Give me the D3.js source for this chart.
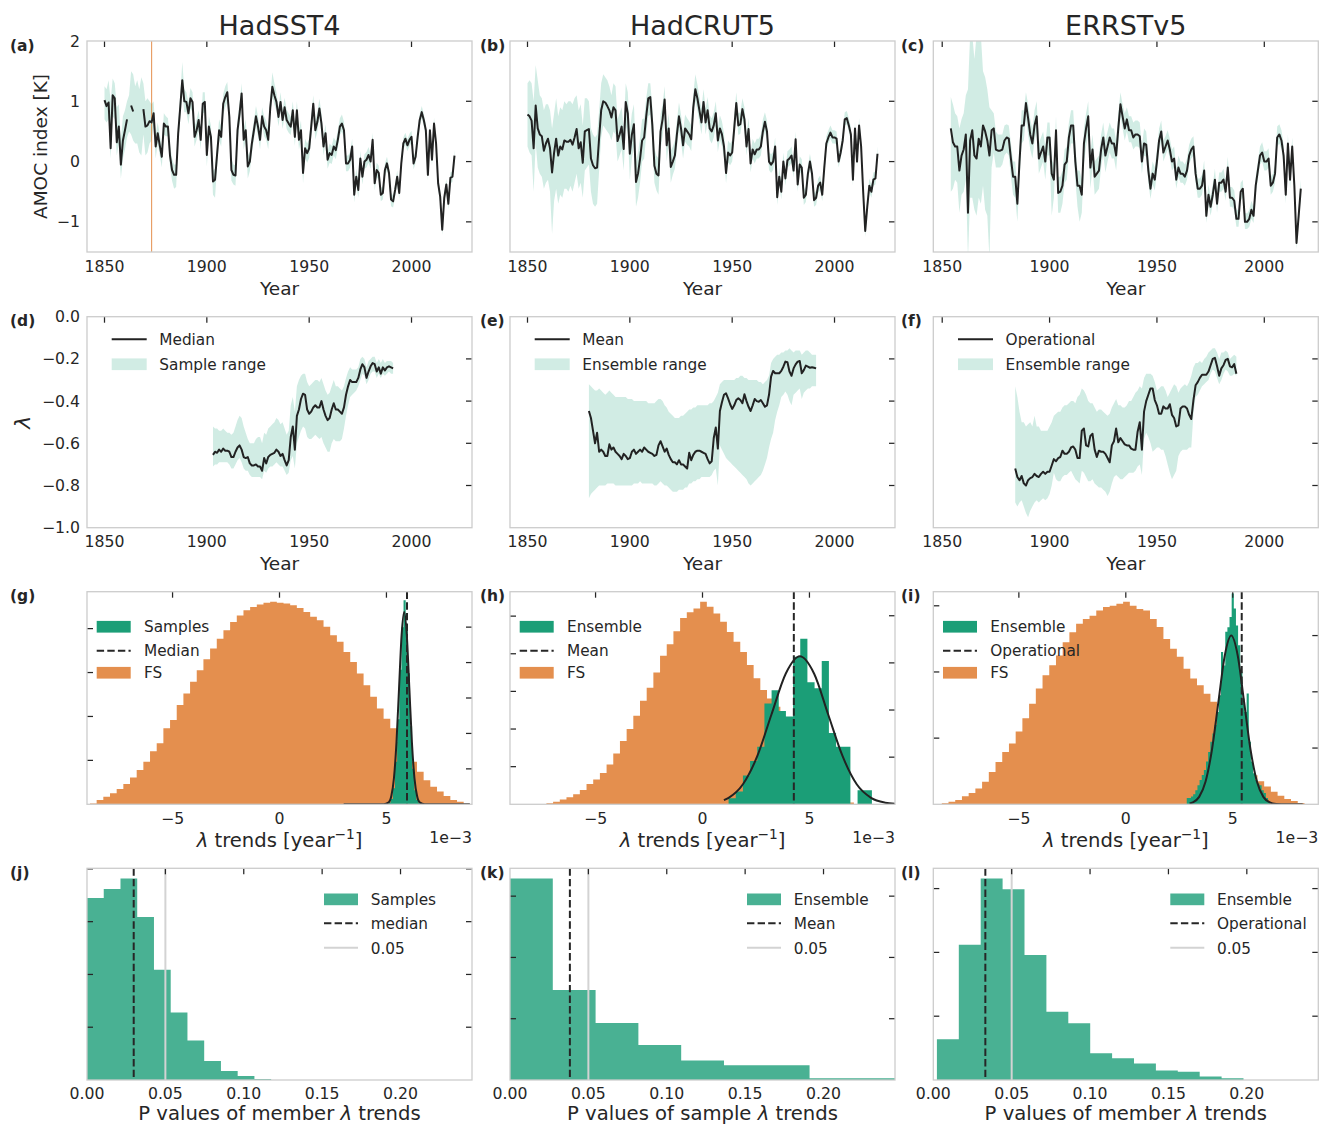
<!DOCTYPE html>
<html><head><meta charset="utf-8">
<script src="https://cdn.jsdelivr.net/npm/d3@7"></script>
<style>
body{margin:0;background:#fff}
svg{display:block}
text{font-family:"DejaVu Sans",sans-serif;fill:#262626}
</style></head>
<body><svg id="c" width="1330" height="1125"></svg>
<script>
// ---------------- DATA ----------------
const datasets = ["HadSST4", "HadCRUT5", "ERRSTv5"];
const panelLetters = ["a","b","c","d","e","f","g","h","i","j","k","l"];
const yearTicks = [1850, 1900, 1950, 2000];
const amocTicks = [2, 1, 0, -1];
const lambdaTicks = [0, -0.2, -0.4, -0.6, -0.8, -1.0];
const trendTicks = [-5, 0, 5];
const pTicks = [0, 0.05, 0.10, 0.15, 0.20];

// Row 1: AMOC index (annual)
const hadsstYears = d3.range(1850, 2022);
const hadsstVal = [1.02,0.92,0.98,0.22,1.1,1.05,0.32,0.58,-0.05,0.35,
0.52,0.7,null,0.93,0.83,null,null,null,null,0.87,
0.58,0.6,0.67,0.65,0.8,0.25,0.47,0.27,0.08,0.63,
0.58,0.58,0.1,-0.14,-0.22,-0.22,0.47,0.9,1.35,1.0,
0.99,0.8,1.05,0.99,0.41,0.52,0.69,0.36,0.96,0.99,
0.11,0.58,0.41,-0.33,-0.3,0.12,0.52,0.41,0.96,1.07,
1.15,0.74,-0.14,-0.22,-0.23,0.52,0.8,1.13,0.36,0.52,
-0.08,0.0,0.3,0.52,0.75,0.58,0.36,0.75,0.58,0.52,
0.36,0.9,1.24,1.1,0.99,0.74,0.99,0.69,0.9,0.69,
0.63,0.58,0.85,0.41,0.85,0.36,0.52,-0.19,0.22,0.14,
0.22,0.58,0.96,0.52,0.66,0.88,0.63,0.25,0.47,0.03,
0.14,0.11,0.25,0.19,0.36,0.58,0.63,0.52,-0.03,-0.03,
0.03,0.25,-0.55,-0.25,-0.47,0.05,-0.25,0.0,0.03,0.11,
0.0,0.36,-0.36,-0.14,-0.19,-0.55,-0.52,-0.14,-0.03,-0.19,
-0.63,-0.66,-0.47,-0.25,-0.52,-0.03,0.3,0.38,0.27,0.36,
0.41,-0.03,0.08,0.41,0.69,0.82,0.69,0.52,-0.22,0.52,
0.03,0.63,0.3,-0.36,-0.58,-1.13,-0.6,-0.38,-0.7,-0.27,
-0.25,0.1];
const hadsstLo = [0.7,0.65,0.7,0.05,0.75,0.7,0.1,0.3,-0.28,0.05,
0.2,0.4,0.5,0.45,0.35,0.3,0.3,0.15,0.1,0.45,
0.1,0.15,0.3,0.35,0.6,0.05,0.3,0.1,-0.1,0.45,
0.42,0.42,-0.08,-0.32,-0.45,-0.42,0.3,0.72,1.15,0.82,
0.82,0.62,0.88,0.82,0.25,0.36,0.52,0.2,0.8,0.82,
-0.08,0.42,0.25,-0.55,-0.6,-0.08,0.35,0.25,0.78,0.9,
0.98,0.55,-0.32,-0.38,-0.4,0.35,0.62,0.95,0.2,0.35,
-0.28,-0.16,0.14,0.36,0.58,0.42,0.2,0.6,0.42,0.36,
0.2,0.75,1.08,0.94,0.84,0.58,0.84,0.54,0.75,0.54,
0.48,0.44,0.7,0.26,0.7,0.2,0.36,-0.36,0.06,-0.02,
0.06,0.42,0.8,0.36,0.5,0.72,0.47,0.1,0.32,-0.12,
-0.02,-0.04,0.1,0.04,0.22,0.44,0.5,0.38,-0.16,-0.16,
-0.1,0.12,-0.68,-0.38,-0.6,-0.08,-0.38,-0.12,-0.1,-0.02,
-0.12,0.24,-0.48,-0.26,-0.3,-0.66,-0.63,-0.25,-0.14,-0.3,
-0.74,-0.76,-0.57,-0.35,-0.62,-0.13,0.2,0.28,0.17,0.26,
0.31,-0.13,-0.02,0.31,0.59,0.72,0.59,0.42,-0.32,0.42,
-0.07,0.53,0.2,-0.46,-0.68,-1.22,-0.7,-0.47,-0.79,-0.36,
-0.34,0.01];
const hadsstHi = [1.25,1.2,1.35,1.0,1.38,1.3,0.9,0.95,0.35,0.75,
0.85,1.0,1.1,1.5,1.45,1.25,1.35,1.2,1.4,1.3,
1.0,1.05,1.0,0.95,1.0,0.45,0.65,0.45,0.25,0.8,
0.75,0.72,0.28,0.05,-0.05,-0.05,0.65,1.1,1.65,1.2,
1.15,0.98,1.22,1.15,0.58,0.7,0.85,0.55,1.15,1.15,
0.3,0.75,0.6,-0.15,-0.12,0.3,0.7,0.58,1.12,1.25,
1.32,0.9,0.05,-0.05,-0.06,0.7,0.98,1.3,0.55,0.7,
0.1,0.16,0.46,0.68,0.92,0.75,0.52,0.9,0.75,0.68,
0.52,1.06,1.48,1.3,1.15,0.9,1.15,0.85,1.06,0.86,
0.8,0.74,1.0,0.58,1.0,0.52,0.68,-0.02,0.38,0.3,
0.38,0.74,1.1,0.68,0.82,1.04,0.8,0.42,0.62,0.18,
0.3,0.26,0.4,0.34,0.52,0.72,0.78,0.66,0.1,0.1,
0.16,0.38,-0.42,-0.12,-0.34,0.18,-0.12,0.12,0.16,0.24,
0.12,0.48,-0.24,-0.02,-0.07,-0.44,-0.41,-0.03,0.08,-0.08,
-0.52,-0.56,-0.37,-0.15,-0.42,0.07,0.4,0.48,0.37,0.46,
0.51,0.07,0.18,0.51,0.79,0.92,0.79,0.62,-0.12,0.62,
0.13,0.73,0.4,-0.26,-0.48,-1.04,-0.5,-0.29,-0.61,-0.18,
-0.16,0.19];
const hadsstMarkYear = 1873;

const hadcrutYears = d3.range(1850, 2022);
const hadcrutVal = [0.78,0.75,0.68,0.22,0.93,0.55,0.45,0.42,0.18,0.3,
0.38,0.22,-0.18,0.15,0.38,0.1,0.25,0.2,0.35,0.33,
0.33,0.36,0.28,0.4,0.54,0.22,0.32,-0.02,0.5,0.52,
0.54,0.05,-0.06,-0.11,-0.1,0.4,0.85,1.0,0.98,0.92,
0.85,0.73,0.9,0.85,0.34,0.45,0.58,0.21,0.99,0.8,
0.13,0.45,0.62,-0.34,-0.2,0.05,0.35,0.4,0.75,1.05,
1.07,0.6,-0.07,-0.2,-0.23,0.5,0.7,1.03,0.27,0.55,
-0.09,0.0,0.1,0.45,0.75,0.55,0.27,0.55,0.5,0.45,
0.37,0.9,1.2,1.05,0.85,0.65,0.99,0.65,0.85,0.55,
0.5,0.6,0.8,0.35,0.55,0.45,0.25,-0.19,0.15,0.1,
0.15,0.55,0.97,0.6,0.62,0.87,0.7,0.25,0.54,-0.03,
0.2,0.12,0.2,0.2,0.25,0.5,0.66,0.5,0.0,-0.05,
0.0,0.25,-0.59,-0.25,-0.5,0.0,-0.28,0.02,0.05,0.1,
-0.15,0.37,-0.38,-0.05,-0.1,-0.6,-0.55,-0.2,0.0,-0.2,
-0.64,-0.6,-0.4,-0.35,-0.55,-0.1,0.3,0.4,0.48,0.4,
0.4,0.38,0.0,0.15,0.35,0.7,0.72,0.6,0.45,-0.3,
0.55,0.0,0.6,0.25,-0.5,-1.15,-0.75,-0.4,-0.5,-0.3,
-0.28,0.13];
const hadcrutLo = [0.25,0.15,0.1,-0.5,0.3,-0.1,-0.2,-0.25,-0.45,-0.35,
-0.3,-0.5,-1.2,-0.65,-0.45,-0.7,-0.55,-0.6,-0.45,-0.45,
-0.5,-0.4,-0.5,-0.35,-0.2,-0.45,-0.35,-0.6,-0.15,-0.1,
-0.05,-0.5,-0.7,-0.75,-0.7,-0.15,0.4,0.6,0.55,0.5,
0.45,0.35,0.5,0.45,0.0,0.1,0.2,-0.15,0.6,0.45,
-0.3,0.05,0.25,-0.75,-0.6,-0.35,0.0,0.05,0.45,0.75,
0.78,0.3,-0.35,-0.48,-0.55,0.2,0.42,0.75,0.0,0.28,
-0.35,-0.22,-0.12,0.22,0.52,0.33,0.05,0.33,0.28,0.25,
0.17,0.7,1.0,0.85,0.65,0.45,0.8,0.45,0.65,0.36,
0.3,0.4,0.6,0.16,0.36,0.26,0.06,-0.36,-0.02,-0.06,
0.0,0.38,0.8,0.44,0.46,0.7,0.55,0.1,0.38,-0.18,
0.05,-0.03,0.05,0.05,0.1,0.35,0.5,0.35,-0.14,-0.19,
-0.14,0.11,-0.72,-0.38,-0.63,-0.13,-0.4,-0.1,-0.07,-0.02,
-0.27,0.25,-0.5,-0.17,-0.22,-0.72,-0.67,-0.32,-0.12,-0.32,
-0.75,-0.72,-0.52,-0.47,-0.66,-0.21,0.2,0.3,0.38,0.3,
0.3,0.28,-0.1,0.05,0.25,0.6,0.62,0.5,0.35,-0.4,
0.45,-0.1,0.5,0.15,-0.6,-1.25,-0.85,-0.5,-0.6,-0.4,
-0.38,0.03];
const hadcrutHi = [1.3,1.35,1.3,1.0,1.6,1.35,1.1,1.05,0.85,0.95,
0.95,0.85,0.55,0.8,1.05,0.75,0.9,0.85,1.0,0.95,
1.0,1.0,0.95,1.05,1.1,0.85,0.95,0.6,1.05,1.05,
1.0,0.55,0.45,0.4,0.45,0.85,1.3,1.45,1.4,1.35,
1.25,1.1,1.3,1.25,0.7,0.8,0.9,0.55,1.3,1.15,
0.5,0.8,0.95,0.0,0.15,0.4,0.7,0.72,1.05,1.3,
1.3,0.9,0.22,0.1,0.05,0.78,0.95,1.25,0.55,0.8,
0.18,0.25,0.35,0.68,0.98,0.78,0.5,0.78,0.72,0.67,
0.6,1.12,1.45,1.28,1.08,0.88,1.2,0.88,1.07,0.77,
0.72,0.82,1.0,0.57,0.77,0.67,0.47,0.02,0.35,0.3,
0.35,0.75,1.15,0.8,0.82,1.05,0.9,0.45,0.72,0.15,
0.38,0.3,0.38,0.38,0.45,0.7,0.82,0.68,0.16,0.12,
0.16,0.4,-0.44,-0.1,-0.35,0.15,-0.13,0.17,0.2,0.25,
0.0,0.5,-0.24,0.09,0.04,-0.47,-0.42,-0.07,0.13,-0.07,
-0.52,-0.48,-0.28,-0.23,-0.43,0.02,0.42,0.52,0.6,0.52,
0.52,0.5,0.12,0.27,0.47,0.82,0.84,0.72,0.57,-0.18,
0.67,0.12,0.72,0.37,-0.38,-1.03,-0.63,-0.28,-0.38,-0.18,
-0.16,0.25];

const ersstYears = d3.range(1854, 2018);
const ersstVal = [0.55,0.32,0.25,0.25,-0.15,0.1,0.2,0.45,-0.85,0.35,
0.52,0.1,0.05,0.38,0.25,0.6,0.5,0.35,0.1,0.52,
0.55,0.2,0.18,0.18,0.2,0.35,0.4,0.38,0.05,-0.25,
-0.25,-0.7,0.0,0.6,0.6,0.97,0.72,0.45,0.3,0.6,
0.75,0.05,0.15,0.25,0.0,0.4,0.4,-0.2,-0.3,0.52,
-0.52,-0.5,-0.4,-0.05,0.0,0.4,0.6,0.6,0.0,-0.4,
-0.4,-0.55,0.3,0.55,0.75,-0.1,0.2,-0.25,-0.2,-0.15,
0.2,0.4,0.1,0.25,0.4,0.3,0.3,0.1,0.55,0.95,
0.75,0.55,0.7,0.52,0.52,0.4,0.45,0.45,0.42,0.0,
0.3,0.28,-0.15,-0.45,-0.2,-0.3,0.0,0.35,0.5,0.15,
0.25,0.35,0.2,0.0,0.05,-0.3,-0.1,-0.2,-0.2,-0.25,
-0.15,0.1,0.2,0.25,-0.2,-0.45,-0.45,-0.4,-0.15,-0.9,
-0.55,-0.75,-0.55,-0.3,-0.7,-0.35,-0.35,-0.3,-0.5,-0.1,
-0.6,-0.6,-0.65,-0.95,-0.95,-0.5,-0.45,-1.0,-1.0,-0.95,
-0.8,-0.9,-0.4,-0.15,0.1,0.15,0.0,0.0,0.05,-0.4,
-0.35,-0.2,0.4,0.45,0.35,0.1,-0.55,0.3,-0.3,0.25,
-0.4,-1.35,-0.9,-0.45];
const ersstLo = [-0.5,-0.45,-0.3,-0.35,-0.85,-0.55,-0.5,-0.3,-1.6,-0.6,
-0.6,-0.8,-0.9,-0.6,-0.7,-0.4,-0.8,-0.9,-1.6,-0.1,
0.15,-0.1,-0.1,-0.1,-0.05,0.1,0.15,0.1,-0.25,-0.55,
-0.6,-1.0,-0.3,0.3,0.35,0.72,0.45,0.2,0.05,0.35,
0.5,-0.2,-0.1,0.0,-0.3,0.1,0.1,-0.9,-0.6,0.2,
-0.85,-0.85,-0.7,-0.35,-0.3,0.1,0.3,0.3,-0.3,-0.75,
-1.0,-0.85,-0.05,0.25,0.45,-0.45,-0.1,-0.55,-0.5,-0.45,
-0.1,0.12,-0.18,0.0,0.15,0.05,0.05,-0.15,0.3,0.75,
0.55,0.35,0.5,0.32,0.32,0.2,0.25,0.25,0.22,-0.2,
0.1,0.08,-0.35,-0.62,-0.38,-0.48,-0.18,0.18,0.35,0.0,
0.1,0.2,0.05,-0.15,-0.1,-0.45,-0.25,-0.35,-0.35,-0.4,
-0.3,-0.05,0.05,0.1,-0.35,-0.6,-0.6,-0.55,-0.3,-1.02,
-0.7,-0.9,-0.7,-0.45,-0.85,-0.5,-0.5,-0.45,-0.65,-0.25,
-0.75,-0.75,-0.8,-1.08,-1.08,-0.65,-0.6,-1.12,-1.12,-1.08,
-0.95,-1.02,-0.55,-0.3,-0.05,0.0,-0.15,-0.15,-0.1,-0.55,
-0.5,-0.35,0.25,0.3,0.2,-0.05,-0.7,0.15,-0.45,0.1,
-0.55,-1.45,-1.05,-0.6];
const ersstHi = [1.07,0.95,0.8,0.75,0.55,0.7,0.8,1.1,1.2,2.1,
2.1,1.7,2.1,2.1,2.1,1.5,1.4,1.2,0.9,0.85,
0.8,0.5,0.45,0.45,0.45,0.6,0.62,0.6,0.3,0.0,
0.0,-0.45,0.25,0.85,0.85,1.15,0.95,0.7,0.55,0.85,
1.0,0.3,0.4,0.5,0.25,0.65,0.65,0.05,-0.05,0.75,
-0.25,-0.25,-0.15,0.2,0.25,0.65,0.85,0.85,0.25,-0.15,
-0.15,-0.3,0.55,0.8,1.0,0.15,0.45,0.0,0.05,0.1,
0.45,0.65,0.35,0.5,0.65,0.55,0.55,0.35,0.8,1.15,
0.95,0.8,0.9,0.75,0.75,0.65,0.68,0.68,0.65,0.25,
0.55,0.5,0.1,-0.25,0.0,-0.1,0.2,0.55,0.68,0.35,
0.42,0.52,0.38,0.2,0.25,-0.12,0.1,0.0,0.0,-0.05,
0.05,0.28,0.38,0.42,0.0,-0.28,-0.28,-0.22,0.02,-0.72,
-0.38,-0.58,-0.38,-0.12,-0.52,-0.18,-0.18,-0.12,-0.32,0.08,
-0.42,-0.42,-0.48,-0.8,-0.8,-0.35,-0.3,-0.85,-0.86,-0.8,
-0.65,-0.75,-0.25,0.0,0.25,0.32,0.17,0.17,0.22,-0.25,
-0.2,-0.05,0.58,0.62,0.52,0.28,-0.4,0.45,-0.15,0.4,
-0.25,-1.25,-0.75,-0.3];

// Row 2: lambda
const lamSSTYears = d3.range(1903, 1992);
const lamSSTVal = [-0.655,-0.64,-0.645,-0.63,-0.64,-0.625,-0.635,-0.635,-0.64,-0.665,
-0.665,-0.64,-0.62,-0.61,-0.63,-0.665,-0.67,-0.665,-0.695,-0.705,
-0.705,-0.7,-0.71,-0.71,-0.73,-0.67,-0.695,-0.665,-0.655,-0.65,
-0.645,-0.63,-0.64,-0.66,-0.65,-0.68,-0.705,-0.68,-0.57,-0.52,
-0.63,-0.47,-0.44,-0.39,-0.365,-0.37,-0.44,-0.46,-0.45,-0.43,
-0.42,-0.43,-0.43,-0.40,-0.44,-0.47,-0.49,-0.48,-0.44,-0.41,
-0.44,-0.44,-0.45,-0.46,-0.43,-0.37,-0.33,-0.30,-0.31,-0.31,
-0.31,-0.29,-0.25,-0.225,-0.24,-0.29,-0.26,-0.235,-0.22,-0.225,
-0.26,-0.24,-0.27,-0.24,-0.255,-0.24,-0.235,-0.24,-0.245];
const lamSSTLo = [-0.71,-0.70,-0.70,-0.69,-0.69,-0.69,-0.69,-0.69,-0.70,-0.72,
-0.72,-0.70,-0.68,-0.67,-0.69,-0.72,-0.73,-0.73,-0.75,-0.76,
-0.76,-0.76,-0.76,-0.76,-0.77,-0.73,-0.74,-0.72,-0.71,-0.71,
-0.70,-0.69,-0.70,-0.71,-0.71,-0.73,-0.75,-0.74,-0.68,-0.66,
-0.72,-0.60,-0.57,-0.54,-0.52,-0.53,-0.57,-0.58,-0.58,-0.57,
-0.56,-0.57,-0.58,-0.57,-0.60,-0.62,-0.64,-0.64,-0.60,-0.58,
-0.59,-0.59,-0.59,-0.58,-0.53,-0.47,-0.42,-0.38,-0.37,-0.36,
-0.35,-0.33,-0.30,-0.27,-0.28,-0.32,-0.30,-0.27,-0.26,-0.26,
-0.29,-0.27,-0.29,-0.27,-0.28,-0.27,-0.26,-0.27,-0.27];
const lamSSTHi = [-0.52,-0.53,-0.53,-0.54,-0.54,-0.53,-0.54,-0.55,-0.55,-0.56,
-0.55,-0.52,-0.49,-0.47,-0.48,-0.52,-0.55,-0.58,-0.60,-0.60,
-0.60,-0.58,-0.57,-0.57,-0.60,-0.55,-0.56,-0.53,-0.52,-0.51,
-0.50,-0.48,-0.49,-0.51,-0.50,-0.53,-0.56,-0.54,-0.42,-0.38,
-0.45,-0.33,-0.30,-0.28,-0.27,-0.27,-0.31,-0.33,-0.32,-0.31,
-0.30,-0.30,-0.31,-0.29,-0.32,-0.35,-0.37,-0.36,-0.33,-0.30,
-0.33,-0.33,-0.34,-0.35,-0.33,-0.29,-0.26,-0.24,-0.25,-0.25,
-0.25,-0.24,-0.20,-0.19,-0.20,-0.24,-0.21,-0.20,-0.19,-0.19,
-0.22,-0.20,-0.22,-0.20,-0.22,-0.21,-0.21,-0.21,-0.22];

const lamCRUTYears = d3.range(1880, 1992);
const lamCRUTVal = [-0.447,-0.48,-0.54,-0.6,-0.55,-0.64,-0.63,-0.64,-0.66,-0.66,
-0.605,-0.63,-0.62,-0.64,-0.65,-0.66,-0.675,-0.65,-0.66,-0.675,
-0.67,-0.64,-0.63,-0.65,-0.64,-0.63,-0.64,-0.62,-0.63,-0.64,
-0.645,-0.65,-0.66,-0.655,-0.61,-0.59,-0.615,-0.64,-0.625,-0.655,
-0.675,-0.69,-0.69,-0.7,-0.68,-0.7,-0.7,-0.71,-0.72,-0.645,
-0.68,-0.655,-0.64,-0.635,-0.635,-0.64,-0.645,-0.65,-0.675,-0.695,
-0.685,-0.575,-0.525,-0.625,-0.447,-0.405,-0.37,-0.363,-0.387,-0.415,
-0.437,-0.42,-0.395,-0.387,-0.395,-0.41,-0.368,-0.4,-0.427,-0.447,
-0.42,-0.39,-0.4,-0.403,-0.395,-0.41,-0.427,-0.42,-0.37,-0.284,
-0.257,-0.268,-0.268,-0.268,-0.257,-0.237,-0.213,-0.216,-0.26,-0.28,
-0.245,-0.226,-0.213,-0.21,-0.268,-0.253,-0.232,-0.237,-0.242,-0.24,
-0.242,-0.245];
const lamCRUTLo = [-0.86,-0.84,-0.83,-0.82,-0.81,-0.80,-0.80,-0.80,-0.80,-0.79,
-0.79,-0.79,-0.79,-0.80,-0.80,-0.80,-0.80,-0.80,-0.80,-0.80,
-0.80,-0.80,-0.79,-0.79,-0.79,-0.78,-0.79,-0.79,-0.79,-0.79,
-0.79,-0.79,-0.80,-0.80,-0.79,-0.78,-0.79,-0.80,-0.80,-0.81,
-0.82,-0.83,-0.83,-0.83,-0.82,-0.82,-0.82,-0.81,-0.81,-0.79,
-0.79,-0.78,-0.78,-0.77,-0.77,-0.76,-0.76,-0.76,-0.76,-0.76,
-0.75,-0.73,-0.72,-0.80,-0.61,-0.63,-0.65,-0.67,-0.68,-0.69,
-0.70,-0.71,-0.72,-0.73,-0.74,-0.75,-0.76,-0.77,-0.79,-0.80,
-0.79,-0.78,-0.77,-0.76,-0.75,-0.73,-0.70,-0.67,-0.62,-0.58,
-0.55,-0.49,-0.45,-0.42,-0.38,-0.37,-0.355,-0.37,-0.40,-0.42,
-0.37,-0.36,-0.35,-0.34,-0.39,-0.36,-0.35,-0.34,-0.34,-0.33,
-0.33,-0.33];
const lamCRUTHi = [-0.32,-0.33,-0.34,-0.35,-0.35,-0.34,-0.35,-0.36,-0.37,-0.36,
-0.35,-0.36,-0.37,-0.38,-0.38,-0.38,-0.38,-0.38,-0.38,-0.39,
-0.39,-0.39,-0.40,-0.40,-0.40,-0.40,-0.40,-0.40,-0.40,-0.41,
-0.41,-0.41,-0.41,-0.40,-0.39,-0.39,-0.40,-0.42,-0.43,-0.45,
-0.46,-0.47,-0.48,-0.48,-0.48,-0.47,-0.47,-0.46,-0.45,-0.44,
-0.44,-0.43,-0.43,-0.42,-0.42,-0.42,-0.42,-0.42,-0.42,-0.41,
-0.41,-0.40,-0.38,-0.36,-0.32,-0.31,-0.30,-0.30,-0.30,-0.30,
-0.30,-0.30,-0.29,-0.29,-0.28,-0.28,-0.29,-0.29,-0.30,-0.30,
-0.30,-0.30,-0.30,-0.31,-0.31,-0.32,-0.31,-0.30,-0.28,-0.22,
-0.20,-0.19,-0.18,-0.18,-0.17,-0.17,-0.16,-0.16,-0.15,-0.16,
-0.17,-0.16,-0.16,-0.16,-0.18,-0.17,-0.16,-0.16,-0.17,-0.18,
-0.18,-0.18];

const lamERSSTYears = d3.range(1884, 1988);
const lamERSSTVal = [-0.72,-0.76,-0.775,-0.755,-0.79,-0.8,-0.775,-0.765,-0.76,-0.745,
-0.755,-0.76,-0.745,-0.735,-0.745,-0.735,-0.735,-0.705,-0.675,-0.685,
-0.67,-0.665,-0.635,-0.65,-0.65,-0.64,-0.62,-0.615,-0.63,-0.67,
-0.67,-0.54,-0.53,-0.61,-0.615,-0.565,-0.555,-0.63,-0.665,-0.635,
-0.64,-0.64,-0.65,-0.67,-0.69,-0.61,-0.59,-0.53,-0.595,-0.575,
-0.59,-0.605,-0.61,-0.61,-0.625,-0.63,-0.63,-0.545,-0.5,-0.63,
-0.45,-0.4,-0.37,-0.34,-0.34,-0.395,-0.42,-0.46,-0.46,-0.425,
-0.435,-0.435,-0.415,-0.465,-0.48,-0.52,-0.515,-0.435,-0.425,-0.425,
-0.435,-0.465,-0.485,-0.395,-0.325,-0.31,-0.29,-0.275,-0.275,-0.275,
-0.26,-0.23,-0.2,-0.195,-0.235,-0.28,-0.245,-0.23,-0.205,-0.2,
-0.235,-0.24,-0.225,-0.27];
const lamERSSTLo = [-0.88,-0.90,-0.88,-0.87,-0.90,-0.93,-0.95,-0.92,-0.90,-0.88,
-0.87,-0.88,-0.87,-0.86,-0.87,-0.86,-0.84,-0.80,-0.74,-0.77,
-0.78,-0.78,-0.76,-0.75,-0.75,-0.74,-0.73,-0.75,-0.77,-0.78,
-0.79,-0.73,-0.74,-0.76,-0.78,-0.78,-0.77,-0.79,-0.80,-0.81,
-0.81,-0.82,-0.83,-0.85,-0.83,-0.79,-0.76,-0.75,-0.76,-0.77,
-0.77,-0.76,-0.75,-0.74,-0.74,-0.74,-0.73,-0.71,-0.70,-0.75,
-0.58,-0.55,-0.57,-0.60,-0.64,-0.63,-0.62,-0.62,-0.63,-0.63,
-0.66,-0.70,-0.74,-0.77,-0.75,-0.73,-0.66,-0.64,-0.63,-0.63,
-0.63,-0.62,-0.62,-0.46,-0.38,-0.37,-0.35,-0.33,-0.32,-0.31,
-0.30,-0.27,-0.25,-0.26,-0.29,-0.32,-0.30,-0.27,-0.25,-0.26,
-0.28,-0.28,-0.27,-0.28];
const lamERSSTHi = [-0.33,-0.38,-0.45,-0.50,-0.50,-0.52,-0.51,-0.50,-0.52,-0.47,
-0.52,-0.52,-0.54,-0.54,-0.54,-0.54,-0.52,-0.50,-0.47,-0.46,
-0.45,-0.45,-0.43,-0.42,-0.42,-0.41,-0.40,-0.40,-0.41,-0.38,
-0.37,-0.34,-0.35,-0.37,-0.40,-0.41,-0.41,-0.43,-0.45,-0.44,
-0.44,-0.45,-0.46,-0.47,-0.46,-0.43,-0.41,-0.39,-0.42,-0.42,
-0.43,-0.43,-0.42,-0.40,-0.40,-0.38,-0.36,-0.35,-0.33,-0.34,
-0.29,-0.27,-0.27,-0.27,-0.28,-0.31,-0.35,-0.34,-0.33,-0.33,
-0.35,-0.38,-0.36,-0.34,-0.32,-0.33,-0.36,-0.34,-0.33,-0.32,
-0.33,-0.31,-0.28,-0.24,-0.22,-0.22,-0.21,-0.22,-0.20,-0.19,
-0.17,-0.16,-0.15,-0.15,-0.17,-0.20,-0.17,-0.17,-0.16,-0.17,
-0.20,-0.19,-0.18,-0.19];

// Row 3: lambda trend histograms (x in 1e-3 / year)
const fsSSTStart = -8.861, fsSSTWidth = 0.312;
const fsSST = [0.02,0.10,0.17,0.25,0.35,0.46,0.61,0.78,0.97,1.21,1.39,1.73,1.92,2.26,2.52,2.79,3.05,3.30,3.55,3.77,3.96,4.15,4.30,4.42,4.49,4.55,4.59,4.61,4.59,4.57,4.53,4.47,4.38,4.27,4.19,4.04,3.85,3.70,3.47,3.24,2.98,2.71,2.45,2.18,1.95,1.73,1.42,1.20,0.97,0.74,0.55,0.40,0.29,0.19,0.10,0.06];
const fsCRUTStart = -7.297, fsCRUTWidth = 0.3125;
const fsCRUT = [0.03,0.07,0.13,0.19,0.27,0.38,0.54,0.66,0.83,1.06,1.35,1.68,2.0,2.35,2.75,3.1,3.5,3.95,4.25,4.6,4.95,5.1,5.2,5.38,5.25,5.07,4.85,4.58,4.32,4.05,3.70,3.35,3.04,2.81,2.59,2.28,1.93,1.58,1.22,0.91,0.65,0.47,0.32,0.20,0.12,0.05];
const fsERSSTStart = -8.603, fsERSSTWidth = 0.314;
const fsERSST = [0.015,0.04,0.065,0.12,0.17,0.24,0.34,0.49,0.64,0.79,0.92,1.10,1.30,1.52,1.75,1.95,2.10,2.25,2.45,2.60,2.73,2.80,2.85,2.93,2.98,3.0,3.03,3.06,3.0,2.95,2.93,2.80,2.68,2.50,2.35,2.23,2.05,1.90,1.80,1.67,1.55,1.35,1.15,0.94,0.74,0.57,0.44,0.35,0.27,0.19,0.13,0.08,0.05,0.02];

const ensSSTStart = 5.1, ensSSTWidth = 0.1;
const ensSST = [0.05,0.15,0.45,1.2,2.4,3.8,5.0,5.76,5.0,3.7,2.2,1.0,0.4,0.12,0.04];
const ensCRUTStart = 1.22, ensCRUTWidth = 0.335;
const ensCRUT = [0.13,0.27,0.61,0.92,1.22,2.14,2.42,1.98,1.86,3.13,3.51,2.59,2.46,3.04,1.51,1.22,1.22,0,0.30,0.30];
const ensERSSTStart = 2.85, ensERSSTWidth = 0.1;
const ensERSST = [0.11,0.11,0.14,0.18,0.25,0.34,0.43,0.52,0.61,0.76,0.93,1.11,1.26,1.41,1.64,1.94,2.71,2.47,3.07,3.15,3.33,3.75,3.48,3.18,2.83,2.36,1.88,1.64,1.97,1.11,0.76,0.55,0.43,0.37,0.34,0.25,0.2,0.11,0.05];

// fitted normal curves
const fitSSTx = [3.0,4.87,5.11,5.23,5.35,5.47,5.59,5.71,5.83,5.95,6.07,6.19,6.31,6.43,6.55,6.79,8.9];
const fitSSTy = [0,0.002,0.06,0.24,0.735,1.76,3.29,4.79,5.43,4.79,3.29,1.76,0.735,0.24,0.06,0.002,0];
const fitCRUTx = [1.0,1.22,1.89,2.56,3.22,3.89,4.55,5.22,5.88,6.55,7.21,7.88,8.54,9.0];
const fitCRUTy = [0.09,0.138,0.425,1.02,1.90,2.77,3.14,2.77,1.90,1.02,0.425,0.138,0.035,0.012];
const fitERSSTx = [2.98,3.13,3.43,3.73,4.03,4.33,4.63,4.93,5.23,5.53,5.83,6.13,6.43,6.73,7.03,7.5,8.27];
const fitERSSTy = [0.015,0.033,0.132,0.406,0.974,1.82,2.65,3.0,2.65,1.82,0.974,0.406,0.132,0.033,0.007,0,0];

const trendRef = [5.96, 4.27, 5.42];       // median / mean / operational
const twinMax = [6.0, 4.51, 3.78];          // right-axis upper limit

// Row 4: p-value histograms
const pSSTStart = 0, pSSTWidth = 0.01068;
const pSST = [3.45,3.62,3.82,3.09,2.09,1.28,0.75,0.36,0.17,0.075,0.02];
const pCRUTStart = 0, pCRUTWidth = 0.0273;
const pCRUT = [3.29,1.47,0.93,0.57,0.32,0.24,0.24,0.027,0.027];
const pERSSTStart = 0.0023, pERSSTWidth = 0.01397;
const pERSST = [0.64,2.12,3.16,2.99,1.96,1.07,0.89,0.42,0.34,0.26,0.15,0.13,0.053,0.027];
const pRef = [0.0298, 0.0382, 0.0332];
const pThreshold = 0.05;

// ---------------- LAYOUT / STYLE ----------------
const svg = d3.select("#c");
const defs = svg.append("defs");
const cols = [87, 510, 933.3], AW = 385;
const rows = [{top:41,h:211},{top:316.7,h:211},{top:591.7,h:212.6},{top:868.3,h:211.7}];
const GREEN = "#1b9e77", BAND_OP = 0.2, ORANGE_BL = "#e48f4e", PBAR = "#49b193";
const INK = "#262626", LINE = "#222222", SPINE = "#cccccc";
const TICKFS = 15.7, LABFS = 18.5, LABFS2 = 19.6, LEGFS = 15.3;
const fmtMinus = s => String(s).replace("-", "\u2212");

function panel(ci, ri){
  const x0 = cols[ci], y0 = rows[ri].top, w = AW, h = rows[ri].h;
  const g = svg.append("g").attr("transform", `translate(${x0},${y0})`);
  const id = `clip_${ci}_${ri}`;
  defs.append("clipPath").attr("id", id).append("rect").attr("x",0).attr("y",0).attr("width", w).attr("height", h);
  const data = g.append("g").attr("clip-path", `url(#${id})`);
  return {g, data, w, h, ci, ri};
}
function spines(p){
  p.g.append("rect").attr("x",0).attr("y",0).attr("width",p.w).attr("height",p.h)
    .attr("fill","none").attr("stroke",SPINE).attr("stroke-width",1.3);
}
function tickMarks(p, pos, side){
  const L = 6;
  pos.forEach(v=>{
    let a;
    if(side==="top") a=[v,0,v,L];
    else if(side==="right") a=[p.w,v,p.w-L,v];
    else if(side==="left") a=[0,v,L,v];
    p.g.append("line").attr("x1",a[0]).attr("y1",a[1]).attr("x2",a[2]).attr("y2",a[3])
      .attr("stroke",INK).attr("stroke-width",1.25);
  });
}
function xLabels(p, x, vals, fmt){
  vals.forEach(v=>{
    p.g.append("text").attr("x",x(v)).attr("y",p.h+19.5).attr("text-anchor","middle")
      .attr("font-size",TICKFS).text(fmt(v));
  });
}
function yLabels(p, y, vals, fmt){
  vals.forEach(v=>{
    p.g.append("text").attr("x",-7).attr("y",y(v)+5.6).attr("text-anchor","end")
      .attr("font-size",TICKFS).text(fmt(v));
  });
}
function xTitle(p, build, dy, fs){
  const t = p.g.append("text").attr("x",p.w/2).attr("y",p.h+dy).attr("text-anchor","middle").attr("font-size",fs);
  build(t);
}
function inner(v, lo, hi){ return v > lo + 1e-9 && v < hi - 1e-9; }
function panelLabel(ci, ri){
  const xs = [10, 480, 901];
  svg.append("text").attr("x",xs[ci]).attr("y",rows[ri].top+9.5).attr("font-size",15.5)
    .attr("font-weight","bold").text(`(${panelLetters[ri*3+ci]})`);
}
function stepArea(sel, x, y, start, width, heights, fill){
  const pts = heights.map((h,i)=>({e:start+i*width, h}));
  pts.push({e:start+heights.length*width, h:heights[heights.length-1]});
  sel.append("path").datum(pts)
    .attr("d", d3.area().x(d=>x(d.e)).y0(y(0)).y1(d=>y(d.h)).curve(d3.curveStepAfter))
    .attr("fill", fill);
}
function legendText(p, x, cy, txt){
  p.g.append("text").attr("x",x).attr("y",cy+5.5).attr("font-size",LEGFS).text(txt);
}

// ---------------- TITLES ----------------
datasets.forEach((d,i)=>{
  svg.append("text").attr("x",cols[i]+AW/2).attr("y",34.5).attr("text-anchor","middle")
    .attr("font-size",27).text(d);
});

const yearDomains = [[1841.45,2029.55],[1841.45,2029.55],[1845.85,2025.15]];

// ---------------- ROW 1 ----------------
const row1 = [
  {years:hadsstYears, val:hadsstVal, lo:hadsstLo, hi:hadsstHi},
  {years:hadcrutYears, val:hadcrutVal, lo:hadcrutLo, hi:hadcrutHi},
  {years:ersstYears, val:ersstVal, lo:ersstLo, hi:ersstHi}
];
row1.forEach((s,ci)=>{
  const p = panel(ci,0);
  const x = d3.scaleLinear(yearDomains[ci],[0,p.w]);
  const y = d3.scaleLinear([-1.5,2],[p.h,0]);
  const pts = s.years.map((yr,i)=>({yr, v:s.val[i], lo:s.lo[i], hi:s.hi[i]}));
  p.data.append("path").datum(pts)
    .attr("d", d3.area().x(d=>x(d.yr)).y0(d=>y(d.lo)).y1(d=>y(d.hi)))
    .attr("fill",GREEN).attr("fill-opacity",BAND_OP);
  if(ci===0){
    p.data.append("line").attr("x1",x(hadsstMarkYear)).attr("x2",x(hadsstMarkYear))
      .attr("y1",0).attr("y2",p.h).attr("stroke","#d95f02").attr("stroke-opacity",0.6).attr("stroke-width",1.2);
  }
  p.data.append("path").datum(pts)
    .attr("d", d3.line().defined(d=>d.v!=null).x(d=>x(d.yr)).y(d=>y(d.v)))
    .attr("fill","none").attr("stroke",LINE).attr("stroke-width",2).attr("stroke-linejoin","round");
  tickMarks(p, yearTicks.map(x), "top");
  tickMarks(p, amocTicks.filter(v=>inner(v,-1.5,2)).map(y), "right");
  xLabels(p, x, yearTicks, v=>v);
  if(ci===0) yLabels(p, y, amocTicks, v=>fmtMinus(v));
  xTitle(p, t=>t.text("Year"), 42.5, LABFS);
  spines(p);
  panelLabel(ci,0);
});
svg.append("text").attr("transform",`translate(47,146.5) rotate(-90)`).attr("text-anchor","middle")
  .attr("font-size",LABFS).text("AMOC index [K]");

// ---------------- ROW 2 ----------------
const row2 = [
  {years:lamSSTYears, val:lamSSTVal, lo:lamSSTLo, hi:lamSSTHi, leg:["Median","Sample range"]},
  {years:lamCRUTYears, val:lamCRUTVal, lo:lamCRUTLo, hi:lamCRUTHi, leg:["Mean","Ensemble range"]},
  {years:lamERSSTYears, val:lamERSSTVal, lo:lamERSSTLo, hi:lamERSSTHi, leg:["Operational","Ensemble range"]}
];
row2.forEach((s,ci)=>{
  const p = panel(ci,1);
  const x = d3.scaleLinear(yearDomains[ci],[0,p.w]);
  const y = d3.scaleLinear([-1,0],[p.h,0]);
  const pts = s.years.map((yr,i)=>({yr, v:s.val[i], lo:s.lo[i], hi:s.hi[i]}));
  p.data.append("path").datum(pts)
    .attr("d", d3.area().x(d=>x(d.yr)).y0(d=>y(d.lo)).y1(d=>y(d.hi)))
    .attr("fill",GREEN).attr("fill-opacity",BAND_OP);
  p.data.append("path").datum(pts)
    .attr("d", d3.line().x(d=>x(d.yr)).y(d=>y(d.v)))
    .attr("fill","none").attr("stroke",LINE).attr("stroke-width",2).attr("stroke-linejoin","round");
  // legend
  p.g.append("line").attr("x1",24.7).attr("x2",59.7).attr("y1",22.6).attr("y2",22.6)
    .attr("stroke",LINE).attr("stroke-width",2);
  legendText(p, 72.3, 22.6, s.leg[0]);
  p.g.append("rect").attr("x",24.7).attr("y",41.7).attr("width",35).attr("height",11.7)
    .attr("fill",GREEN).attr("fill-opacity",BAND_OP);
  legendText(p, 72.3, 47.6, s.leg[1]);
  tickMarks(p, yearTicks.map(x), "top");
  tickMarks(p, lambdaTicks.filter(v=>inner(v,-1,0)).map(y), "right");
  xLabels(p, x, yearTicks, v=>v);
  if(ci===0) yLabels(p, y, lambdaTicks, v=>fmtMinus(d3.format(".1f")(v)));
  xTitle(p, t=>t.text("Year"), 42.5, LABFS);
  spines(p);
  panelLabel(ci,1);
});
svg.append("text").attr("transform",`translate(30,422.2) rotate(-90)`).attr("text-anchor","middle")
  .attr("font-size",22).attr("font-style","italic").text("\u03bb");

// ---------------- ROW 3 ----------------
const row3 = [
  {fs:fsSST, fsS:fsSSTStart, fsW:fsSSTWidth, ens:ensSST, eS:ensSSTStart, eW:ensSSTWidth, fx:fitSSTx, fy:fitSSTy, leg:["Samples","Median"]},
  {fs:fsCRUT, fsS:fsCRUTStart, fsW:fsCRUTWidth, ens:ensCRUT, eS:ensCRUTStart, eW:ensCRUTWidth, fx:fitCRUTx, fy:fitCRUTy, leg:["Ensemble","Mean"]},
  {fs:fsERSST, fsS:fsERSSTStart, fsW:fsERSSTWidth, ens:ensERSST, eS:ensERSSTStart, eW:ensERSSTWidth, fx:fitERSSTx, fy:fitERSSTy, leg:["Ensemble","Operational"]}
];
row3.forEach((s,ci)=>{
  const p = panel(ci,2);
  const x = d3.scaleLinear([-9,9],[0,p.w]);
  const yL = d3.scaleLinear([0, d3.max(s.fs)*1.05],[p.h,0]);
  const yR = d3.scaleLinear([0, twinMax[ci]],[p.h,0]);
  stepArea(p.data, x, yL, s.fsS, s.fsW, s.fs, ORANGE_BL);
  // legend (main axes)
  p.g.append("rect").attr("x",9.7).attr("y",29.2).attr("width",34).attr("height",11.7).attr("fill",GREEN);
  legendText(p, 57, 35, s.leg[0]);
  p.g.append("line").attr("x1",9.7).attr("x2",43.7).attr("y1",59).attr("y2",59)
    .attr("stroke",INK).attr("stroke-width",2).attr("stroke-dasharray","7.4,3.2");
  legendText(p, 57, 59, s.leg[1]);
  p.g.append("rect").attr("x",9.7).attr("y",75.2).attr("width",34).attr("height",11.7).attr("fill",ORANGE_BL);
  legendText(p, 57, 81, "FS");
  // twin axes content
  const tw = p.g.append("g").attr("clip-path", `url(#clip_${ci}_2)`);
  stepArea(tw, x, yR, s.eS, s.eW, s.ens, GREEN);
  const fit = s.fx.map((v,i)=>({x:v, y:s.fy[i]}));
  tw.append("path").datum(fit)
    .attr("d", d3.line().x(d=>x(d.x)).y(d=>yR(d.y)).curve(d3.curveMonotoneX))
    .attr("fill","none").attr("stroke",LINE).attr("stroke-width",2);
  tw.append("line").attr("x1",x(trendRef[ci])).attr("x2",x(trendRef[ci])).attr("y1",0).attr("y2",p.h)
    .attr("stroke",INK).attr("stroke-width",2).attr("stroke-dasharray","7.4,3.2");
  tickMarks(p, trendTicks.map(x), "top");
  tickMarks(p, d3.range(1, Math.floor(yL.domain()[1])+1).filter(v=>v<yL.domain()[1]).map(yL), "left");
  tickMarks(p, d3.range(1, Math.floor(twinMax[ci])+1).filter(v=>v<twinMax[ci]).map(yR), "right");
  xLabels(p, x, trendTicks, v=>fmtMinus(v));
  p.g.append("text").attr("x",p.w).attr("y",p.h+39).attr("text-anchor","end").attr("font-size",TICKFS).text("1e\u22123");
  xTitle(p, t=>{
    t.append("tspan").attr("font-style","italic").text("\u03bb");
    t.append("tspan").text(" trends [year");
    t.append("tspan").attr("font-size",LABFS2*0.7).attr("dy",-8).text("\u22121");
    t.append("tspan").attr("dy",8).text("]");
  }, 43, LABFS2);
  spines(p);
  panelLabel(ci,2);
});

// ---------------- ROW 4 ----------------
const row4 = [
  {h:pSST, s:pSSTStart, w:pSSTWidth, leg:["Samples","median"], lab:"member"},
  {h:pCRUT, s:pCRUTStart, w:pCRUTWidth, leg:["Ensemble","Mean"], lab:"sample"},
  {h:pERSST, s:pERSSTStart, w:pERSSTWidth, leg:["Ensemble","Operational"], lab:"member"}
];
row4.forEach((s,ci)=>{
  const p = panel(ci,3);
  const x = d3.scaleLinear([0,0.2456],[0,p.w]);
  const y = d3.scaleLinear([0, d3.max(s.h)*1.05],[p.h,0]);
  stepArea(p.data, x, y, s.s, s.w, s.h, PBAR);
  p.data.append("line").attr("x1",x(pRef[ci])).attr("x2",x(pRef[ci])).attr("y1",0).attr("y2",p.h)
    .attr("stroke",INK).attr("stroke-width",2).attr("stroke-dasharray","7.4,3.2");
  p.data.append("line").attr("x1",x(pThreshold)).attr("x2",x(pThreshold)).attr("y1",0).attr("y2",p.h)
    .attr("stroke","#d3d3d3").attr("stroke-width",2);
  // legend
  p.g.append("rect").attr("x",237).attr("y",25.2).attr("width",34).attr("height",11.7).attr("fill",PBAR);
  legendText(p, 283.7, 31, s.leg[0]);
  p.g.append("line").attr("x1",237).attr("x2",271).attr("y1",55).attr("y2",55)
    .attr("stroke",INK).attr("stroke-width",2).attr("stroke-dasharray","7.4,3.2");
  legendText(p, 283.7, 55, s.leg[1]);
  p.g.append("line").attr("x1",237).attr("x2",271).attr("y1",79.5).attr("y2",79.5)
    .attr("stroke","#d3d3d3").attr("stroke-width",2);
  legendText(p, 283.7, 80, "0.05");
  tickMarks(p, pTicks.filter(v=>v>0).map(x), "top");
  const yt = d3.range(1, Math.floor(y.domain()[1])+1).filter(v=>v<y.domain()[1]).map(y);
  tickMarks(p, yt, "left");
  tickMarks(p, yt, "right");
  xLabels(p, x, pTicks, v=>d3.format(".2f")(v));
  xTitle(p, t=>{
    t.append("tspan").text(`P values of ${s.lab} `);
    t.append("tspan").attr("font-style","italic").text("\u03bb");
    t.append("tspan").text(" trends");
  }, 40, LABFS2);
  spines(p);
  panelLabel(ci,3);
});
</script></body></html>
